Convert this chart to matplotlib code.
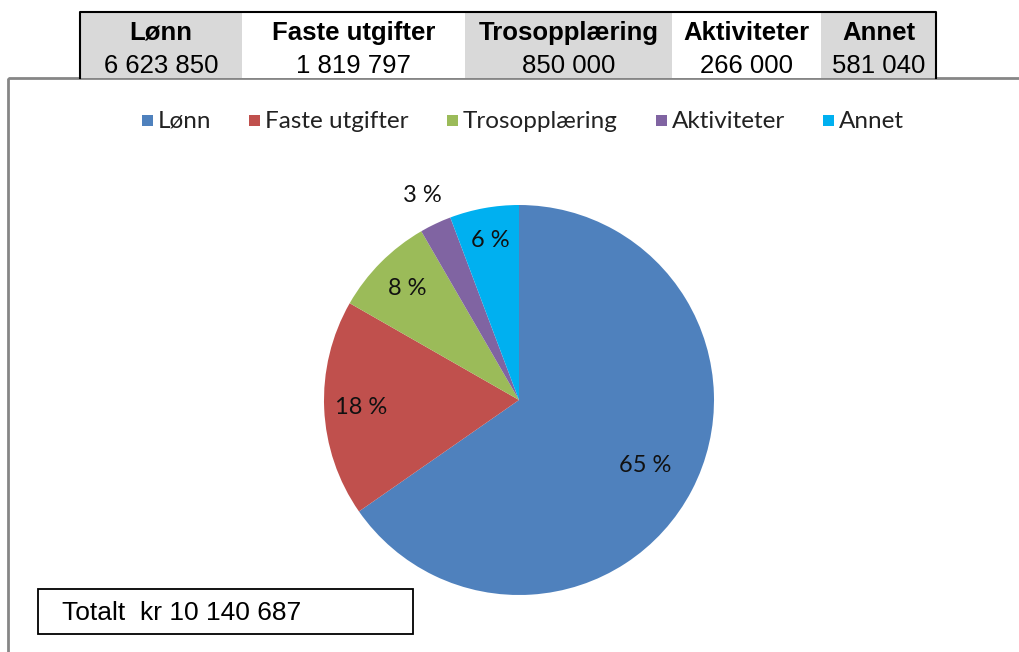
import numpy as np
import matplotlib
matplotlib.use("Agg")
import matplotlib.pyplot as plt
from matplotlib.patches import Rectangle

categories = ["Lønn", "Faste utgifter", "Trosopplæring", "Aktiviteter", "Annet"]
values = [6623850, 1819797, 850000, 266000, 581040]
colors = ["#4F81BD", "#C0504D", "#9BBB59", "#8064A2", "#00B0F0"]
col_edges = [80, 242, 465, 672, 821, 936]
col_fill = ["#D9D9D9", "white", "#D9D9D9", "white", "#D9D9D9"]


def fmt(v):
    return f"{v:,}".replace(",", " ")


W, H = 1019, 652
fig = plt.figure(figsize=(W / 100, H / 100), dpi=100)

# pixel-coordinate overlay for table and frames
bg = fig.add_axes([0, 0, 1, 1])
bg.set_xlim(0, W)
bg.set_ylim(H, 0)
bg.axis("off")

# chart frame
bg.add_patch(Rectangle((8, 78), W, H, fill=False, edgecolor="#868686", lw=2))

# table
for i, cat in enumerate(categories):
    x0, x1 = col_edges[i], col_edges[i + 1]
    bg.add_patch(Rectangle((x0, 12), x1 - x0, 66, facecolor=col_fill[i], edgecolor="none"))
    xc = (x0 + x1) / 2
    bg.text(xc, 33, cat, ha="center", va="center", fontsize=18.5, fontweight="bold",
            family="Liberation Sans")
    bg.text(xc, 66, fmt(values[i]), ha="center", va="center", fontsize=18.5,
            family="Liberation Sans")
bg.plot([80, 80, 936, 936], [78, 12, 12, 78], color="black", lw=1.5)

# total box
bg.add_patch(Rectangle((38, 589), 375, 45, fill=False, edgecolor="black", lw=1.3))
bg.text(62, 613, "Totalt  kr " + fmt(sum(values)), ha="left", va="center",
        fontsize=19, family="Liberation Sans")

# legend
lx = 142
for cat, c in zip(categories, colors):
    bg.add_patch(Rectangle((lx, 115), 11, 11, facecolor=c, edgecolor="none"))
    t = bg.text(lx + 16, 121, cat, ha="left", va="center", fontsize=17.5,
                family="Lato", color="#222222")
    fig.canvas.draw()
    bb = t.get_window_extent()
    lx = lx + 16 + bb.width + 38

# pie
cx, cy, r = 519, 400, 195
pax = fig.add_axes([(cx - r) / W, 1 - (cy + r) / H, 2 * r / W, 2 * r / H])
wedges, texts, autotexts = pax.pie(values, colors=colors, startangle=90, counterclock=False,
                                   autopct=lambda p: f"{p:.0f} %", pctdistance=0.8,
                                   radius=1, wedgeprops=dict(linewidth=0),
                                   textprops=dict(fontsize=17, family="Lato",
                                                  color="#111111"))
pax.set_xlim(-1, 1)
pax.set_ylim(-1, 1)
# label distances per slice (best fit positions)
dists = [0.73, 0.81, 0.81, 1.16, 0.83]
for w, t, d in zip(wedges, autotexts, dists):
    ang = np.deg2rad((w.theta1 + w.theta2) / 2)
    t.set_position((d * np.cos(ang), d * np.sin(ang)))

fig.savefig("out.png", dpi=100)
